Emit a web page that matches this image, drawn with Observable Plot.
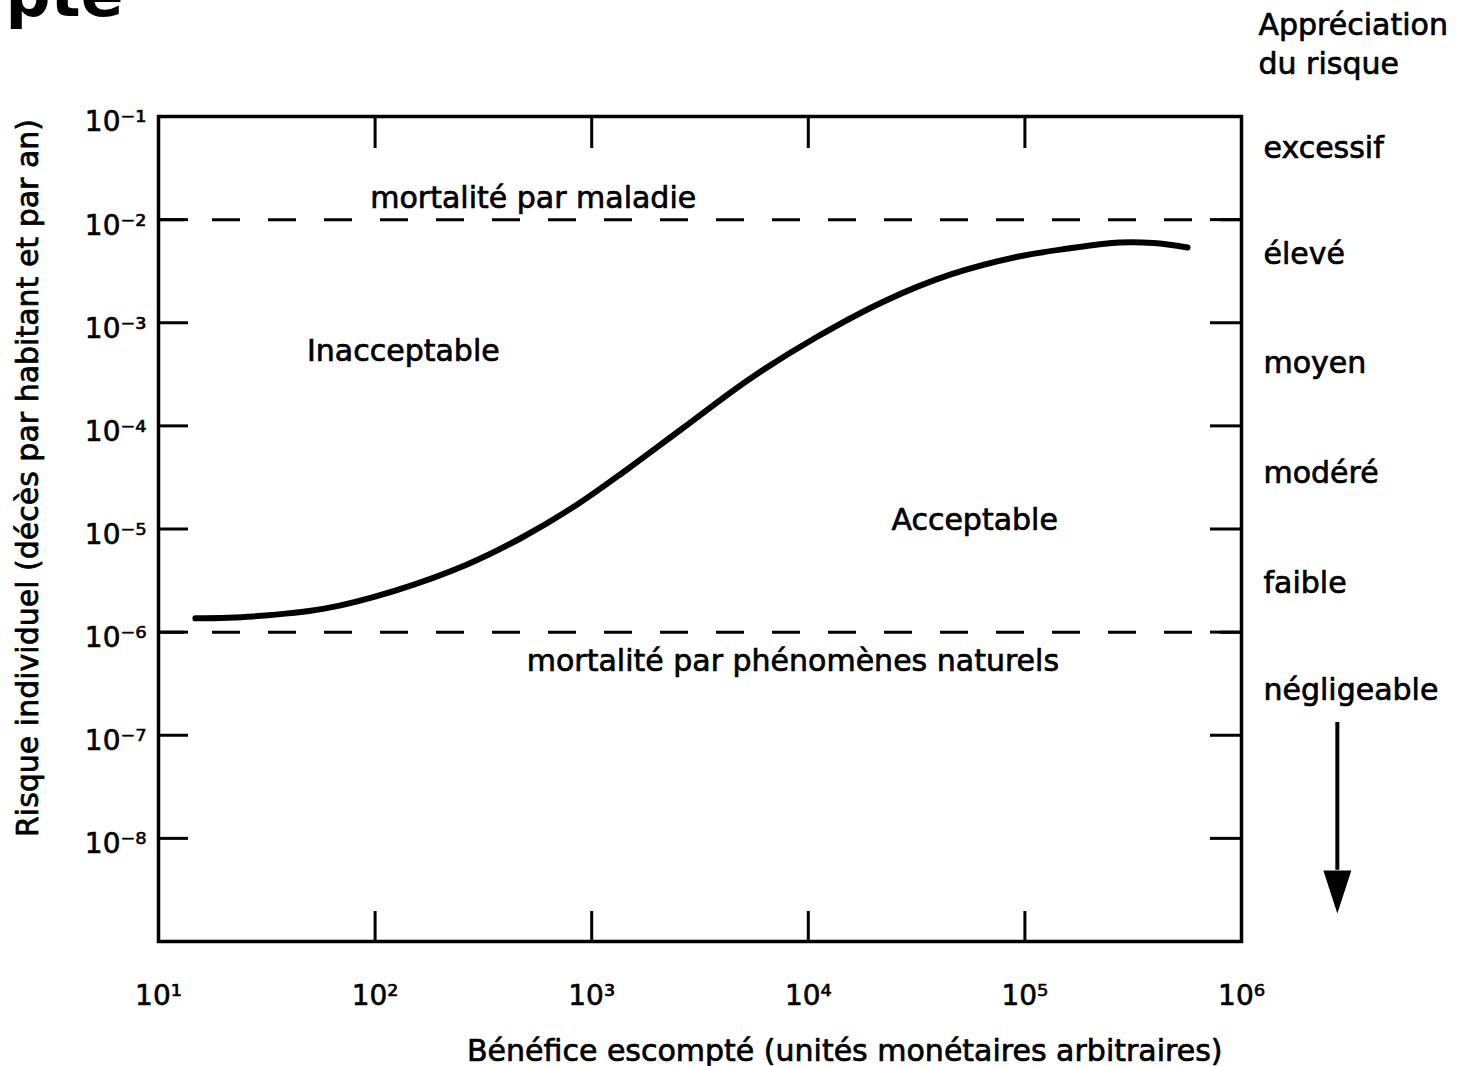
<!DOCTYPE html>
<html><head><meta charset="utf-8">
<script src="https://cdn.jsdelivr.net/npm/d3@7"></script>
<script src="https://cdn.jsdelivr.net/npm/@observablehq/plot@0.6"></script>
<style>
html,body{margin:0;padding:0;background:#fff;}
#chart svg{display:block;}
</style></head><body><div id="chart"></div>
<script>
// Curve: acceptable-risk boundary (x = expected benefit, y = individual risk)
const benefit = [14.8, 27.2, 58.3, 124, 266, 468, 830, 1456, 2585, 5320, 10840, 22330, 45500, 93600, 159200, 273600, 392700, 563600];
const risk = [1.36e-6, 1.42e-6, 1.69e-6, 2.53e-6, 4.53e-6, 8.09e-6, 1.65e-5, 3.78e-5, 9.22e-5, 2.82e-4, 7.19e-4, 1.61e-3, 2.94e-3, 4.39e-3, 5.25e-3, 6.0e-3, 5.93e-3, 5.37e-3];

// Reference mortality levels
const thresholds = [1e-2, 1e-6];
const thresholdLabels = ["mortalité par maladie", "mortalité par phénomènes naturels"];
const thresholdLabelX = [537, 8490];

// Zone labels
const zoneLabels = ["Inacceptable", "Acceptable"];
const zoneX = [135, 58600];
const zoneY = [4.3e-4, 9.7e-6];

// Risk appreciation scale (right side)
const appreciationTitle = "Appréciation\ndu risque";
const appreciation = ["excessif", "élevé", "moyen", "modéré", "faible", "négligeable"];
const appreciationY = [4.9e-2, 4.6e-3, 4.0e-4, 3.5e-5, 3.0e-6, 2.7e-7];

// Arrow (decreasing risk)
const arrowX = 2.77e6;
const arrowTop = 1.33e-7;
const arrowBase = 4.9e-9;
const arrowTip = 1.87e-9;

// Ticks
const xTickValues = [1e1, 1e2, 1e3, 1e4, 1e5, 1e6];
const yTickValues = [1e-1, 1e-2, 1e-3, 1e-4, 1e-5, 1e-6, 1e-7, 1e-8];
const xLabel = "Bénéfice escompté (unités monétaires arbitraires)";
const yLabel = "Risque individuel (décès par habitant et par an)";
const titleFragment = "pte";

const sup = {"0":"⁰","1":"¹","2":"²","3":"³","4":"⁴","5":"⁵","6":"⁶","7":"⁷","8":"⁸","9":"⁹","-":"⁻"};
const pow = v => "10" + String(Math.round(Math.log10(v))).split("").map(c => sup[c]).join("");

const curveData = benefit.map((b, i) => ({b, r: risk[i]}));

const triangleDown = {
  draw(ctx) {
    ctx.moveTo(-14, -43);
    ctx.lineTo(14, -43);
    ctx.lineTo(0, 0);
    ctx.closePath();
  }
};

const ink = {fill: "black", stroke: "black", strokeWidth: 0.7};

const chart = Plot.plot({
  width: 1461,
  height: 1066,
  marginLeft: 158,
  marginRight: 220,
  marginTop: 116,
  marginBottom: 125,
  x: {type: "log", domain: [10, 1e6], axis: null},
  y: {type: "log", domain: [1e-9, 1e-1], axis: null},
  style: {fontFamily: "'DejaVu Sans', sans-serif", fontSize: "30px", color: "#000", background: "#fff", overflow: "visible"},
  marks: [
    // inward ticks
    Plot.axisY(yTickValues.slice(1), {anchor: "left", tickSize: -30, strokeWidth: 3, fill: "none", label: null}),
    Plot.axisY(yTickValues.slice(1), {anchor: "right", tickSize: -32, strokeWidth: 3, fill: "none", label: null}),
    Plot.axisX(xTickValues.slice(1, 5), {anchor: "top", tickSize: -31, strokeWidth: 3, fill: "none", label: null}),
    Plot.axisX(xTickValues.slice(1, 5), {anchor: "bottom", tickSize: -30, strokeWidth: 3, fill: "none", label: null}),
    // tick labels
    Plot.axisY(yTickValues, {anchor: "left", tickSize: 0, tickPadding: 12, tickFormat: pow, dy: 6, fontSize: 28, textStroke: "black", textStrokeWidth: 0.6, label: null}),
    Plot.axisX(xTickValues, {anchor: "bottom", tickSize: 0, tickPadding: 44, tickFormat: pow, fontSize: 28, textStroke: "black", textStrokeWidth: 0.6, label: null}),
    // reference lines
    Plot.ruleY(thresholds, {strokeWidth: 3, strokeDasharray: "28,28", strokeDashoffset: 2}),
    Plot.text([thresholdLabels[0]], {x: () => thresholdLabelX[0], y: () => thresholds[0], text: d => d, lineAnchor: "bottom", dy: -12, ...ink}),
    Plot.text([thresholdLabels[1]], {x: () => thresholdLabelX[1], y: () => thresholds[1], text: d => d, lineAnchor: "bottom", dy: 39, ...ink}),
    // zone labels
    Plot.text(zoneLabels, {x: (d, i) => zoneX[i], y: (d, i) => zoneY[i], text: d => d, lineAnchor: "bottom", ...ink}),
    // curve
    Plot.line(curveData, {x: "b", y: "r", curve: "catmull-rom", strokeWidth: 6, strokeLinecap: "round"}),
    // frame
    Plot.frame({strokeWidth: 3.5}),
    // appreciation scale
    Plot.text([appreciationTitle], {frameAnchor: "top-right", text: d => d, textAnchor: "start", lineAnchor: "bottom", lineHeight: 1.27, dx: 17, dy: -43, ...ink}),
    Plot.text(appreciation, {x: () => 1e6, y: (d, i) => appreciationY[i], text: d => d, textAnchor: "start", dx: 22, ...ink}),
    Plot.ruleX([arrowX], {y1: arrowTop, y2: arrowBase, strokeWidth: 4}),
    Plot.dot([arrowTip], {x: () => arrowX, y: d => d, symbol: triangleDown, fill: "black", stroke: null, r: 10}),
    // axis titles
    Plot.text([xLabel], {frameAnchor: "bottom-right", text: d => d, textAnchor: "end", lineAnchor: "bottom", dx: -19, dy: 119, ...ink}),
    Plot.text([yLabel], {frameAnchor: "left", text: d => d, rotate: -90, textAnchor: "middle", dx: -130, dy: -51, ...ink}),
    // cropped title fragment
    Plot.text([titleFragment], {frameAnchor: "top-left", text: d => d, textAnchor: "start", lineAnchor: "bottom", fontSize: 63, fontWeight: "bold", dx: -153, dy: -101})
  ]
});
document.getElementById("chart").appendChild(chart);
</script>
</body></html>
